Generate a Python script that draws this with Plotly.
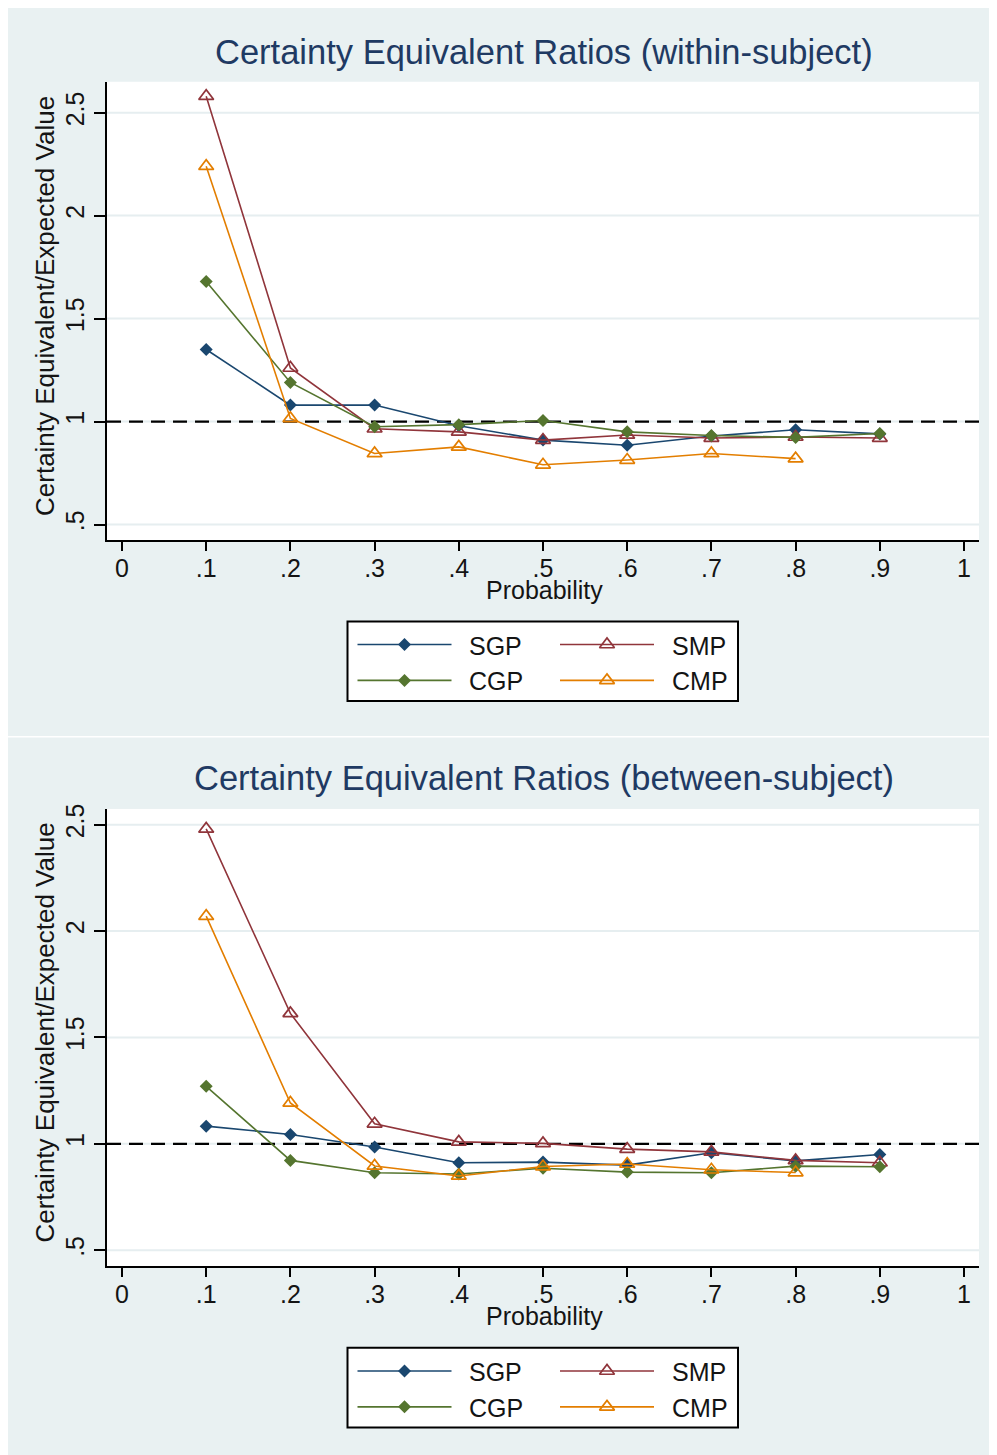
import plotly.graph_objects as go

# page has an 8px body margin: design in reference pixels, then shift
MARGIN = 8
W, H = 997 - MARGIN, 1455 - MARGIN

# ---------------- data ----------------
prob = [0.1, 0.2, 0.3, 0.4, 0.5, 0.6, 0.7, 0.8, 0.9]
prob_cmp = [0.1, 0.2, 0.3, 0.4, 0.5, 0.6, 0.7, 0.8]

# within-subject
sgp_w = [1.35, 1.08, 1.08, 0.98, 0.91, 0.885, 0.93, 0.96, 0.94]
smp_w = [2.58, 1.26, 0.965, 0.95, 0.91, 0.935, 0.92, 0.925, 0.92]
cgp_w = [1.68, 1.19, 0.975, 0.985, 1.005, 0.95, 0.932, 0.923, 0.942]
cmp_w = [2.24, 1.015, 0.845, 0.877, 0.79, 0.813, 0.845, 0.82]

# between-subject
sgp_b = [1.083, 1.044, 0.985, 0.911, 0.914, 0.90, 0.958, 0.92, 0.95]
smp_b = [2.48, 1.613, 1.094, 1.009, 1.002, 0.975, 0.962, 0.922, 0.911]
cgp_b = [1.27, 0.922, 0.864, 0.858, 0.885, 0.867, 0.864, 0.895, 0.892]
cmp_b = [2.07, 1.192, 0.896, 0.849, 0.893, 0.905, 0.878, 0.865]

series_names = ["SGP", "SMP", "CGP", "CMP"]
series_colors = ["#1a476f", "#90353b", "#55752f", "#e37e00"]
x_ticks = [0, 0.1, 0.2, 0.3, 0.4, 0.5, 0.6, 0.7, 0.8, 0.9, 1]
x_ticktext = ["0", ".1", ".2", ".3", ".4", ".5", ".6", ".7", ".8", ".9", "1"]
y_ticks = [0.5, 1, 1.5, 2, 2.5]
y_ticktext = [".5", "1", "1.5", "2", "2.5"]
ref_value = 1
titles = ["Certainty Equivalent Ratios (within-subject)",
          "Certainty Equivalent Ratios (between-subject)"]
x_title = "Probability"
y_title = "Certainty Equivalent/Expected Value"

# ---------------- styling helpers ----------------
FONT = "Liberation Sans, Arial, sans-serif"
PANEL_BG = "#e9f1f2"
TITLE_COLOR = "#1f3a63"
TEXT_COLOR = "#141414"
OFF = 729  # vertical pixel offset between the two panels


def px(x):
    return (x - MARGIN) / W


def py(y):
    return 1 - (y - MARGIN) / H


marker_styles = [
    dict(symbol="diamond", size=10),
    dict(symbol="triangle-up-open", size=13, line=dict(width=1.7)),
    dict(symbol="diamond", size=10),
    dict(symbol="triangle-up-open", size=13, line=dict(width=1.7)),
]

fig = go.Figure()

panels = [
    dict(xs=[prob, prob, prob, prob_cmp], ys=[sgp_w, smp_w, cgp_w, cmp_w],
         top=77, bottom=537, yrange=[0.424, 2.65]),
    dict(xs=[prob, prob, prob, prob_cmp], ys=[sgp_b, smp_b, cgp_b, cmp_b],
         top=77 + OFF + 0.7, bottom=537 + OFF - 0.3, yrange=[0.424, 2.574]),
]

layout_axes = {}
shapes = []
annotations = []

for i, p in enumerate(panels):
    xa = "x" if i == 0 else "x2"
    ya = "y" if i == 0 else "y2"
    for k in range(4):
        ms = dict(marker_styles[k])
        ms["color"] = series_colors[k]
        fig.add_trace(go.Scatter(
            x=p["xs"][k], y=p["ys"][k], mode="lines+markers",
            name=series_names[k], xaxis=xa, yaxis=ya,
            line=dict(color=series_colors[k], width=1.6),
            marker=ms, showlegend=False))
    xkey = "xaxis" if i == 0 else "xaxis2"
    ykey = "yaxis" if i == 0 else "yaxis2"
    layout_axes[xkey] = dict(
        domain=[px(107), px(979)], range=[-0.0178, 1.0178],
        anchor=ya, tickmode="array", tickvals=x_ticks, ticktext=x_ticktext,
        ticks="outside", ticklen=9, tickwidth=2, tickcolor="black",
        showline=True, linecolor="black", linewidth=2,
        showgrid=False, zeroline=False, ticklabelstandoff=-4,
        tickfont=dict(family=FONT, size=25, color=TEXT_COLOR))
    layout_axes[ykey] = dict(
        domain=[py(p["bottom"]), py(p["top"])], range=p["yrange"],
        anchor=xa, tickmode="array", tickvals=y_ticks, ticktext=y_ticktext,
        tickangle=-90, ticks="outside", ticklen=11, tickwidth=2, tickcolor="black",
        showline=True, linecolor="black", linewidth=2,
        showgrid=False, zeroline=False,
        tickfont=dict(family=FONT, size=25, color=TEXT_COLOR))
    # light horizontal grid lines at the y ticks
    for v in y_ticks:
        shapes.append(dict(type="line", xref=f"{xa} domain", yref=ya,
                           x0=0, x1=1, y0=v, y1=v, layer="below",
                           line=dict(color="#e6eef0", width=2)))
    # dashed reference line
    shapes.append(dict(type="line", xref=f"{xa} domain", yref=ya,
                       x0=0, x1=1, y0=ref_value, y1=ref_value, layer="below",
                       line=dict(color="black", width=2.2, dash="14px,8px")))
    off = i * OFF
    annotations.append(dict(text=titles[i], xref="paper", yref="paper",
                            x=px(543.5), y=py(47 + off), xanchor="center", yanchor="middle",
                            showarrow=False,
                            font=dict(family=FONT, size=34.5, color=TITLE_COLOR)))
    annotations.append(dict(text=x_title, xref="paper", yref="paper",
                            x=px(544), y=py(587 + off), xanchor="center", yanchor="middle",
                            showarrow=False,
                            font=dict(family=FONT, size=25, color=TEXT_COLOR)))
    annotations.append(dict(text=y_title, xref="paper", yref="paper",
                            x=px(45), y=py(302 + off), xanchor="center", yanchor="middle",
                            textangle=-90, showarrow=False,
                            font=dict(family=FONT, size=26, color=TEXT_COLOR)))

    # ---- legend box (drawn on its own small subplot in pixel units) ----
    lx = "x3" if i == 0 else "x4"
    ly = "y3" if i == 0 else "y4"
    box_top, box_bot = 618.5 + off, 698.5 + off
    lxkey = "xaxis3" if i == 0 else "xaxis4"
    lykey = "yaxis3" if i == 0 else "yaxis4"
    layout_axes[lxkey] = dict(domain=[px(347.5), px(738)], range=[0, 390.5],
                              visible=False, fixedrange=True, anchor=ly)
    layout_axes[lykey] = dict(domain=[py(box_bot), py(box_top)], range=[80, 0],
                              visible=False, fixedrange=True, anchor=lx)
    shapes.append(dict(type="rect", xref="paper", yref="paper",
                       x0=px(347.5), x1=px(738), y0=py(box_bot), y1=py(box_top),
                       line=dict(color="black", width=2), fillcolor="rgba(0,0,0,0)"))
    cols = [(10, 104, 119), (212.5, 306.5, 322.5)]
    rows = [23.2, 59.2]
    for k in range(4):
        c = cols[k % 2]
        r = rows[k // 2]
        fig.add_trace(go.Scatter(x=[c[0], c[1]], y=[r, r], mode="lines",
                                 xaxis=lx, yaxis=ly, showlegend=False, hoverinfo="skip",
                                 line=dict(color=series_colors[k], width=1.6)))
        ms = dict(marker_styles[k])
        ms["color"] = series_colors[k]
        fig.add_trace(go.Scatter(x=[(c[0] + c[1]) / 2], y=[r], mode="markers",
                                 xaxis=lx, yaxis=ly, showlegend=False, hoverinfo="skip",
                                 marker=ms))
        annotations.append(dict(text=series_names[k], xref=lx, yref=ly,
                                x=c[2], y=r + 1, xanchor="left", yanchor="middle",
                                showarrow=False,
                                font=dict(family=FONT, size=25, color=TEXT_COLOR)))

# white gap between the two panels
shapes.append(dict(type="rect", xref="paper", yref="paper", x0=0, x1=1,
                   y0=py(735), y1=py(733.5),
                   line=dict(width=0), fillcolor="white", layer="below"))

fig.update_layout(
    width=W, height=H, autosize=False,
    margin=dict(l=0, r=0, t=0, b=0, pad=0),
    paper_bgcolor=PANEL_BG, plot_bgcolor="white",
    showlegend=False,
    shapes=shapes, annotations=annotations,
    **layout_axes)

fig.write_html("out.html")
